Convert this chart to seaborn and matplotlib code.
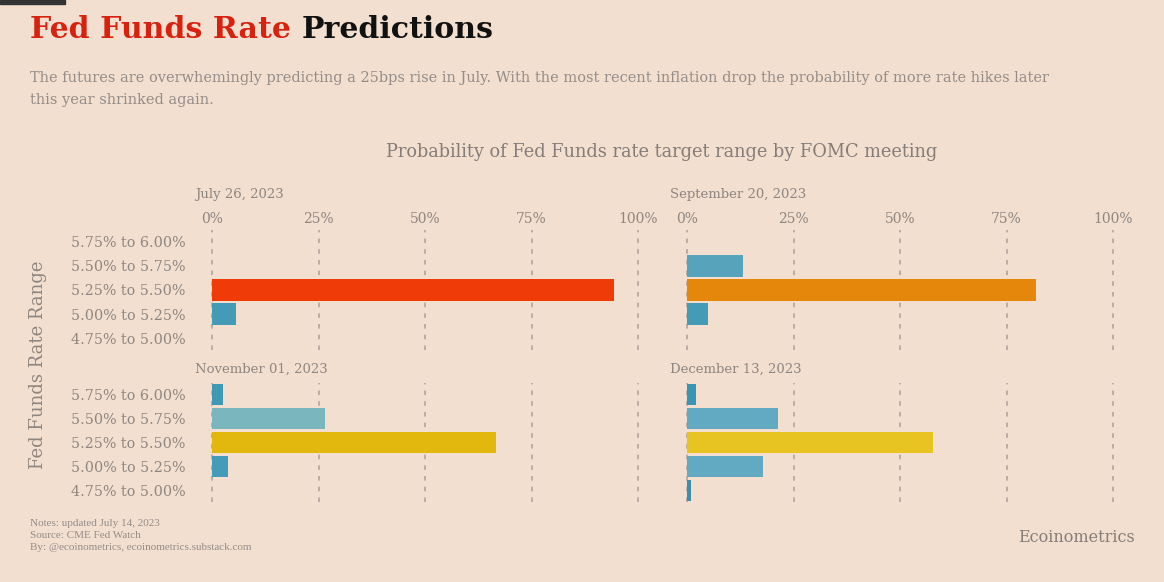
import matplotlib
matplotlib.use('Agg')
import matplotlib.pyplot as plt
import seaborn as sns
from matplotlib.patches import Rectangle

# chart data
ranges = ['5.75% to 6.00%', '5.50% to 5.75%', '5.25% to 5.50%',
          '5.00% to 5.25%', '4.75% to 5.00%']
meetings = ['July 26, 2023', 'September 20, 2023',
            'November 01, 2023', 'December 13, 2023']
jul_prob = [0, 0, 94.3, 5.7, 0]
sep_prob = [0, 13.1, 81.9, 4.9, 0]
nov_prob = [2.6, 26.6, 66.7, 3.8, 0]
dec_prob = [2.0, 21.4, 57.7, 17.9, 0.9]
xticks = [0, 25, 50, 75, 100]
xtick_labels = ['0%', '25%', '50%', '75%', '100%']

jul_colors = ['#4a9cb6', '#4a9cb6', '#ee3b08', '#449bb6', '#4a9cb6']
sep_colors = ['#4a9cb6', '#58a3bc', '#e5870a', '#449bb6', '#4a9cb6']
nov_colors = ['#3f98b4', '#7ab6be', '#e2b80e', '#449cb8', '#4a9cb6']
dec_colors = ['#3796b2', '#62a9c2', '#e7c421', '#62a9c2', '#3a8fae']

bg = '#f2dfd0'
grey = '#8e8681'
serif = 'DejaVu Serif'

sns.set_theme(style='white', rc={'figure.facecolor': bg, 'axes.facecolor': bg})
plt.rcParams['font.family'] = [serif]

fig = plt.figure(figsize=(11.64, 5.82), dpi=100)
W, H = 1164, 582


def px_axes(x0, y0, x1, y1):
    return fig.add_axes([x0 / W, 1 - y1 / H, (x1 - x0) / W, (y1 - y0) / H])


panels = [
    (px_axes(212, 230, 638, 350), jul_prob, jul_colors, meetings[0], True, True),
    (px_axes(687, 230, 1113, 350), sep_prob, sep_colors, meetings[1], True, False),
    (px_axes(212, 383, 638, 502), nov_prob, nov_colors, meetings[2], False, True),
    (px_axes(687, 383, 1113, 502), dec_prob, dec_colors, meetings[3], False, False),
]

for ax, vals, cols, label, show_x, show_y in panels:
    ax.set_facecolor(bg)
    sns.barplot(x=vals, y=ranges, hue=ranges, palette=cols, legend=False,
                orient='h', width=0.88, linewidth=0, saturation=1,
                ax=ax, zorder=3)
    ax.set_xlim(0, 100)
    ax.set_ylim(4.5, -0.5)
    ax.set_xticks(xticks)
    for xv in xticks:
        ax.axvline(xv, color='#aaa09a', lw=1.1, ls=(0, (3, 4)), zorder=1,
                   clip_on=False)
    ax.xaxis.tick_top()
    ax.tick_params(axis='both', length=0, colors=grey)
    if show_x:
        ax.set_xticklabels(xtick_labels, fontsize=10, color=grey)
        ax.tick_params(axis='x', pad=3)
    else:
        ax.set_xticklabels([])
    if show_y:
        ax.set_yticks(range(len(ranges)))
        ax.set_yticklabels(ranges, fontsize=10.3, color=grey)
        ax.tick_params(axis='y', pad=19)
    else:
        ax.set_yticklabels([])
    ax.set_xlabel('')
    ax.set_ylabel('')
    sns.despine(ax=ax, left=True, bottom=True, top=True, right=True)
    pos = ax.get_position()
    top_px = (1 - pos.y1) * H
    lab_y = top_px - (35 if show_x else 14)
    ax_x = pos.x0 * W - 17
    fig.text(ax_x / W, 1 - lab_y / H, label, fontsize=9.5, color=grey,
             ha='left', va='center')

# title in two colours
t1 = fig.text(30 / W, 1 - 38 / H, 'Fed Funds Rate ', fontsize=21.6,
              fontweight='bold', color='#d8210e', ha='left', va='baseline')
fig.canvas.draw()
bb = t1.get_window_extent(renderer=fig.canvas.get_renderer())
fig.text(bb.x1 / W, 1 - 38 / H, 'Predictions', fontsize=21.6,
         fontweight='bold', color='#111111', ha='left', va='baseline')

sub1 = ('The futures are overwhemingly predicting a 25bps rise in July. With the most '
        'recent inflation drop the probability of more rate hikes later')
fig.text(30 / W, 1 - 78 / H, sub1, fontsize=10.45, color='#948c88', va='center')
fig.text(30 / W, 1 - 100 / H, 'this year shrinked again.', fontsize=10.45,
         color='#948c88', va='center')

fig.text(662 / W, 1 - 152 / H,
         'Probability of Fed Funds rate target range by FOMC meeting',
         fontsize=12.8, color='#857d79', ha='center', va='center')

fig.text(38 / W, 1 - 365 / H, 'Fed Funds Rate Range', fontsize=13,
         color=grey, rotation=90, ha='center', va='center')

notes = ['Notes: updated July 14, 2023', 'Source: CME Fed Watch',
         'By: @ecoinometrics, ecoinometrics.substack.com']
for i, line in enumerate(notes):
    fig.text(30 / W, 1 - (523 + 12 * i) / H, line, fontsize=8,
             color='#948c88', va='center', family='Liberation Serif')

fig.text(1135 / W, 1 - 537 / H, 'Ecoinometrics', fontsize=11.5,
         color='#857d79', ha='right', va='center')

fig.patches.append(Rectangle((0, 1 - 4 / H), 65 / W, 4 / H,
                             transform=fig.transFigure, color='#333333'))

fig.savefig('out.png', dpi=100, facecolor=bg)
